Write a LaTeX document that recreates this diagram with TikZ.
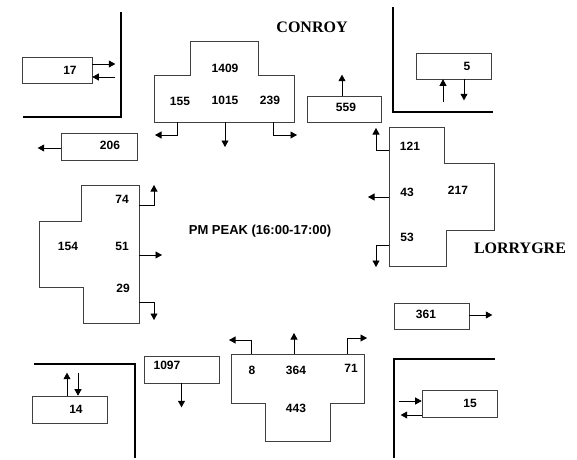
\documentclass[tikz,border=0pt]{standalone}
\usepackage{fontspec}
\setmainfont{Liberation Serif}
\newfontfamily\numfont{Liberation Sans}
\usetikzlibrary{arrows.meta}
\tikzset{
  flow/.style={-{Triangle[length=6.5pt,width=7pt]},line width=0.7pt},
  wall/.style={line width=2.4pt,line cap=square},
  lane/.style={draw=black!75,line width=0.6pt},
  cntbox/.style={draw=black!75,line width=0.6pt,inner sep=0pt,minimum width=75pt,minimum height=26pt},
  num/.style={font=\numfont\bfseries\fontsize{12}{12}\selectfont,inner sep=0pt},
  road/.style={font=\bfseries\fontsize{16}{16}\selectfont,inner sep=0pt}
}
\begin{document}
\begin{tikzpicture}[x=1pt,y=-1pt]
  \useasboundingbox (0,0) rectangle (577,459);
  \draw[wall] (121,12) -- (121,117) -- (23,117);
  \draw[wall] (393,7) -- (393,112) -- (493,112);
  \draw[wall] (34,364) -- (135,364) -- (135,458);
  \draw[wall] (495,359) -- (394,359) -- (394,458);

  \node[road] (conroy) at (312,27) {CONROY};
  \node[road] (lorrygre) at (520,248) {LORRYGRE};
  \node[num,font=\numfont\bfseries\fontsize{13}{13}\selectfont] (peak) at (260,231) {PM PEAK (16:00-17:00)};

  \node[cntbox,minimum width=70pt] (b17) at (57,70) {};
  \node[num] (n17) at (70,70) {17};
  \draw[flow] ([yshift=6pt]b17.east) -- ++(23,0);
  \draw[flow] ([yshift=-7pt]b17.east) ++(23,0) -- ([yshift=-7pt]b17.east);

  \node[cntbox,minimum width=76pt,minimum height=27pt] (b206) at (99,146.5) {};
  \node[num] (n206) at (110,145) {206};
  \draw[flow] ([yshift=-1.5pt]b206.west) -- ++(-23,0);

  \node[cntbox,minimum width=74pt] (b559) at (344,109) {};
  \node[num] (n559) at (346,107) {559};
  \draw[flow] ([xshift=-2pt]b559.north) -- ++(0,-21);

  \node[cntbox] (b5) at (453.5,66) {};
  \node[num] (n5) at (467,66) {5};
  \draw[flow] ([xshift=-10.5pt]b5.south) ++(0,23) -- ([xshift=-10.5pt]b5.south);
  \draw[flow] ([xshift=10.5pt]b5.south) -- ++(0,21);

  \node[cntbox] (b361) at (431.5,316) {};
  \node[num] (n361) at (426,314) {361};
  \draw[flow] ([yshift=1pt]b361.east) -- ++(23,0);

  \node[cntbox,minimum height=27pt] (b14) at (69.5,409.5) {};
  \node[num] (n14) at (76,409) {14};
  \draw[flow] ([xshift=-2.5pt]b14.north) -- ++(0,-23);
  \draw[flow] ([xshift=8.5pt]b14.north) ++(0,-23) -- ([xshift=8.5pt]b14.north);

  \node[cntbox,minimum height=27pt] (b1097) at (181.5,369.5) {};
  \node[num] (n1097) at (167,365) {1097};
  \draw[flow] (b1097.south) -- ++(0,24);

  \node[cntbox,minimum height=27pt] (b15) at (459.5,403.5) {};
  \node[num] (n15) at (470,403) {15};
  \draw[flow] ([yshift=2.5pt]b15.west) ++(-23,0) -- ([yshift=2.5pt]b15.west);
  \draw[flow] ([yshift=-11.5pt]b15.west) -- ++(-21,0);

  \draw[lane] (190,41) -- (258,41) -- (258,75) -- (294,75) -- (294,122) -- (154,122) -- (154,75) -- (190,75) -- cycle;
  \node[num] (n1409) at (225,68) {1409};
  \node[num] (n155) at (180,101) {155};
  \node[num] (n1015) at (225,100) {1015};
  \node[num] (n239) at (270,100) {239};
  \draw[flow] (177,122) |- (155,135);
  \draw[flow] (225,122) -- (225,147);
  \draw[flow] (273,122) |- (297,135);

  \draw[lane] (389,127) -- (444,127) -- (444,163) -- (494,163) -- (494,230) -- (446,230) -- (446,266) -- (389,266) -- cycle;
  \node[num] (n121) at (410,146) {121};
  \node[num] (n43) at (407,192) {43};
  \node[num] (n217) at (458,190) {217};
  \node[num] (n53) at (407,237) {53};
  \draw[flow] (389,150) -| (376,128);
  \draw[flow] (389,197) -- (368,197);
  \draw[flow] (389,245) -| (376,267);

  \draw[lane] (81,185) -- (139,185) -- (139,323) -- (83,323) -- (83,287) -- (39,287) -- (39,221) -- (81,221) -- cycle;
  \node[num] (n74) at (122,199) {74};
  \node[num] (n154) at (68,246) {154};
  \node[num] (n51) at (122,246) {51};
  \node[num] (n29) at (123,288) {29};
  \draw[flow] (139,205) -| (154,185);
  \draw[flow] (139,255) -- (162,255);
  \draw[flow] (139,302) -| (154,320);

  \draw[lane] (231,354) -- (364,354) -- (364,403) -- (330,403) -- (330,441) -- (265,441) -- (265,403) -- (231,403) -- cycle;
  \node[num] (n8) at (252,370) {8};
  \node[num] (n364) at (296,370) {364};
  \node[num] (n71) at (351,368) {71};
  \node[num] (n443) at (296,408) {443};
  \draw[flow] (251,354) |- (229,340);
  \draw[flow] (294,354) -- (294,333);
  \draw[flow] (347,354) |- (367,338);
\end{tikzpicture}
\end{document}
